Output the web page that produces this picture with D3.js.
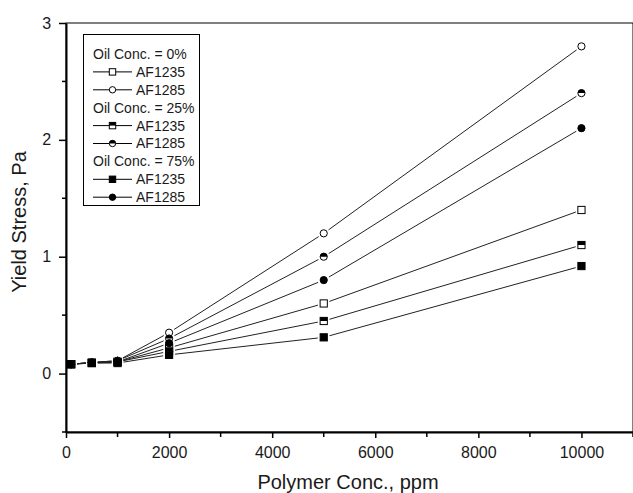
<!DOCTYPE html>
<html>
<head>
<meta charset="utf-8">
<script src="https://cdn.jsdelivr.net/npm/d3@7"></script>
<style>
	body { margin: 0; background: #fff; }
	text { font-family: Arial, "Liberation Sans", sans-serif; fill: #1a1a1a; }
</style>
</head>
<body>
<script>
const WIDTH = 633;
const HEIGHT = 493;
const LEFT = 66, RIGHT = 633, TOP = 23, BOTTOM = 432;

var concentrations = [100, 500, 1000, 2000, 5000, 10000];
var oil0_AF1235 = [0.08, 0.095, 0.10, 0.22, 0.60, 1.40];
var oil0_AF1285 = [0.08, 0.095, 0.11, 0.35, 1.20, 2.80];
var oil25_AF1235 = [0.08, 0.09, 0.10, 0.19, 0.45, 1.10];
var oil25_AF1285 = [0.08, 0.095, 0.11, 0.30, 1.00, 2.40];
var oil75_AF1235 = [0.08, 0.09, 0.09, 0.16, 0.31, 0.92];
var oil75_AF1285 = [0.08, 0.095, 0.10, 0.26, 0.80, 2.10];

var xTickValues = [0, 2000, 4000, 6000, 8000, 10000];
var yTickValues = [0, 1, 2, 3];

var series = [
	{group: 'Oil Conc. = 0%', name: 'AF1235', shape: 'square', fill: 'open', values: oil0_AF1235},
	{group: 'Oil Conc. = 0%', name: 'AF1285', shape: 'circle', fill: 'open', values: oil0_AF1285},
	{group: 'Oil Conc. = 25%', name: 'AF1235', shape: 'square', fill: 'half', values: oil25_AF1235},
	{group: 'Oil Conc. = 25%', name: 'AF1285', shape: 'circle', fill: 'half', values: oil25_AF1285},
	{group: 'Oil Conc. = 75%', name: 'AF1235', shape: 'square', fill: 'full', values: oil75_AF1235},
	{group: 'Oil Conc. = 75%', name: 'AF1285', shape: 'circle', fill: 'full', values: oil75_AF1285}
];

var _xScale = d3.scaleLinear().domain([0, 11000]).range([LEFT, RIGHT]);
var _yScale = d3.scaleLinear().domain([-0.5, 3]).range([BOTTOM, TOP]);

var svg = d3.select('body').append('svg')
	.attr('width', WIDTH)
	.attr('height', HEIGHT);

// draws a marker centred at 0,0 inside g
var drawMarker = function(g, shape, fill, r){
	if (shape == 'square') {
		g.append('rect').attr('x', -r).attr('y', -r).attr('width', 2*r).attr('height', 2*r)
			.attr('fill', fill == 'full' ? '#000' : '#fff').attr('stroke', '#000').attr('stroke-width', 1);
		if (fill == 'half')
			g.append('rect').attr('x', -r).attr('y', -r).attr('width', 2*r).attr('height', r).attr('fill', '#000');
	} else {
		g.append('circle').attr('r', r)
			.attr('fill', fill == 'full' ? '#000' : '#fff').attr('stroke', '#000').attr('stroke-width', 1);
		if (fill == 'half')
			g.append('path').attr('d', 'M' + (-r) + ',0 A' + r + ',' + r + ' 0 0,1 ' + r + ',0 Z').attr('fill', '#000');
	}
};

// frame
svg.append('rect')
	.attr('x', LEFT).attr('y', TOP)
	.attr('width', RIGHT - LEFT).attr('height', BOTTOM - TOP)
	.attr('fill', 'none').attr('stroke', '#000').attr('stroke-width', 1);

// x axis
var xAxis = d3.axisBottom(_xScale).tickValues(xTickValues).tickSize(6).tickSizeOuter(0).tickFormat(d3.format('d'));
var gx = svg.append('g').attr('transform', 'translate(0,' + BOTTOM + ')').call(xAxis);
gx.selectAll('text').attr('font-size', 16).attr('dy', '1.05em');
gx.append('g').selectAll('line')
	.data(d3.range(1000, 11001, 2000))
	.enter().append('line')
	.attr('x1', function(d){ return _xScale(d); }).attr('x2', function(d){ return _xScale(d); })
	.attr('y1', 0).attr('y2', 5).attr('stroke', '#000').attr('stroke-width', 1.5);

// y axis
var yAxis = d3.axisLeft(_yScale).tickValues(yTickValues).tickSize(7).tickSizeOuter(0).tickFormat(d3.format('d'));
var gy = svg.append('g').attr('transform', 'translate(' + LEFT + ',0)').call(yAxis);
gy.selectAll('text').attr('font-size', 16).attr('dx', '-0.3em');
gy.append('g').selectAll('line')
	.data([-0.5, 0.5, 1.5, 2.5])
	.enter().append('line')
	.attr('y1', function(d){ return _yScale(d); }).attr('y2', function(d){ return _yScale(d); })
	.attr('x1', 0).attr('x2', -4).attr('stroke', '#000').attr('stroke-width', 1.5);

svg.selectAll('.domain').attr('stroke-width', 2);
svg.selectAll('.tick line').attr('stroke-width', 1.5);

// axis titles
svg.append('text')
	.attr('x', 348).attr('y', 489)
	.attr('text-anchor', 'middle').attr('font-size', 20)
	.text('Polymer Conc., ppm');
svg.append('text')
	.attr('transform', 'translate(26,' + 222 + ') rotate(-90)')
	.attr('text-anchor', 'middle').attr('font-size', 20)
	.text('Yield Stress, Pa');

// lines, broken around markers
var GAP = 6;
var plot = svg.append('g');
series.forEach(function(s){
	var pts = s.values.map(function(v, i){ return [_xScale(concentrations[i]), _yScale(v)]; });
	for (var i = 0; i < pts.length - 1; i++) {
		var a = pts[i], b = pts[i+1];
		var dx = b[0] - a[0], dy = b[1] - a[1];
		var len = Math.sqrt(dx*dx + dy*dy);
		if (len <= 2*GAP) continue;
		var ux = dx/len, uy = dy/len;
		plot.append('line')
			.attr('x1', a[0] + ux*GAP).attr('y1', a[1] + uy*GAP)
			.attr('x2', b[0] - ux*GAP).attr('y2', b[1] - uy*GAP)
			.attr('stroke', '#222').attr('stroke-width', 1);
	}
});
series.forEach(function(s){
	s.values.forEach(function(v, i){
		var g = plot.append('g').attr('transform', 'translate(' + _xScale(concentrations[i]) + ',' + _yScale(v) + ')');
		drawMarker(g, s.shape, s.fill, 3.6);
	});
});

// legend
var legend = svg.append('g');
legend.append('rect')
	.attr('x', 83.5).attr('y', 34.5).attr('width', 116).attr('height', 171)
	.attr('fill', '#fff').attr('stroke', '#000').attr('stroke-width', 1);
var rowY = 54, ROW = 17.9, lastGroup = null;
series.forEach(function(s){
	if (s.group != lastGroup) {
		legend.append('text').attr('x', 93).attr('y', rowY).attr('dy', '0.35em')
			.attr('font-size', 14).text(s.group);
		rowY += ROW;
		lastGroup = s.group;
	}
	legend.append('line').attr('x1', 93).attr('x2', 132).attr('y1', rowY).attr('y2', rowY)
		.attr('stroke', '#000').attr('stroke-width', 1);
	var g = legend.append('g').attr('transform', 'translate(112.5,' + rowY + ')');
	drawMarker(g, s.shape, s.fill, 3.2);
	legend.append('text').attr('x', 136).attr('y', rowY).attr('dy', '0.35em')
		.attr('font-size', 14).text(s.name);
	rowY += ROW;
});
</script>
</body>
</html>
